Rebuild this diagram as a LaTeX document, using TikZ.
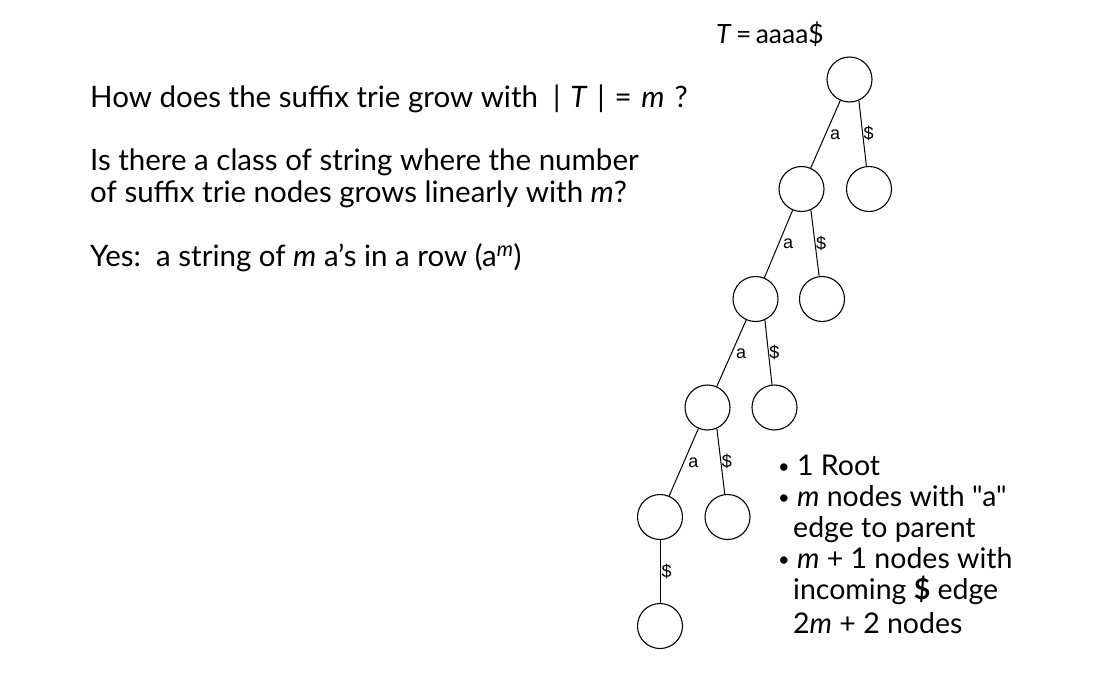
\documentclass[tikz,border=0pt]{standalone}
\usepackage{fontspec}
\setmainfont{Lato}[Ligatures=TeXOff]
\newfontfamily\edgefont{Liberation Sans}
\newcommand{\dotitem}{\raisebox{1.5pt}{\fontsize{20}{20}\selectfont\textbullet}\ }

\begin{document}
\begin{tikzpicture}[x=1pt,y=-1pt,
		trie/.style={draw, circle, line width=1.1pt, minimum size=45, inner sep=0},
		alab/.style={anchor=west, inner sep=4pt, font=\edgefont\fontsize{18}{18}\selectfont},
		dlab/.style={anchor=west, inner sep=0.5pt, font=\edgefont\fontsize{18}{18}\selectfont},
		txt/.style={anchor=base west, inner sep=0, font=\fontsize{29.5}{32}\selectfont},
		cnt/.style={anchor=base west, inner sep=0, font=\fontsize{28.5}{31}\selectfont}]
		\useasboundingbox (0,0) rectangle (1102,677);

		% text on the left
		\node[txt, font=\fontsize{26.5}{30}\selectfont] (title) at (716,44) {\textit{T}\,=\,aaaa\$};
		\node[txt] (q1) at (90,107) {How does the suffix trie grow with\ \ |\,\,\textit{T}\,\,|\,\,=\,\,\textit{m}\,\,?};
		\node[txt] (q2) at (90,170) {Is there a class of string where the number};
		\node[txt] (q3) at (90,202) {of suffix trie nodes grows linearly with \textit{m}?};
		\node[txt] (ans) at (90,266) {Yes:\ \ a string of \textit{m} a’s in a row (a\textsuperscript{\textit{m}})};

		% the trie
		\node[trie] (r0) at (849.5,79.5) {};
		\node[trie] (a1) at (801.5,189) {};
		\node[trie] (d0) at (869,189) {};
		\node[trie] (a2) at (755.5,299) {};
		\node[trie] (d1) at (822,299) {};
		\node[trie] (a3) at (707.5,407.5) {};
		\node[trie] (d2) at (774.5,407.5) {};
		\node[trie] (a4) at (660,517) {};
		\node[trie] (d3) at (727.5,517) {};
		\node[trie] (d4) at (660,626) {};

		\draw[line width=1pt] (r0) -- node[alab] {a} (a1);
		\draw[line width=1pt] (r0.-66) -- node[dlab] {\$} (d0);
		\draw[line width=1pt] (a1) -- node[alab] {a} (a2);
		\draw[line width=1pt] (a1.-66) -- node[dlab] {\$} (d1);
		\draw[line width=1pt] (a2) -- node[alab] {a} (a3);
		\draw[line width=1pt] (a2.-66) -- node[dlab] {\$} (d2);
		\draw[line width=1pt] (a3) -- node[alab] {a} (a4);
		\draw[line width=1pt] (a3.-66) -- node[dlab] {\$} (d3);
		\draw[line width=1pt] (a4) -- node[dlab, inner sep=1pt] {\$} (d4);

		% counts
		\node[cnt] (b1) at (778,475) {\dotitem 1 Root};
		\node[cnt] (b2) at (778,506) {\dotitem \textit{m} nodes with "a"};
		\node[cnt] (b2b) at (793,537) {edge to parent};
		\node[cnt] (b3) at (778,568) {\dotitem \textit{m} + 1 nodes with};
		\node[cnt] (b3b) at (793,599) {incoming \textbf{\$} edge};
		\node[cnt] (tot) at (793,633) {2\textit{m} + 2 nodes};
	\end{tikzpicture}
\end{document}
